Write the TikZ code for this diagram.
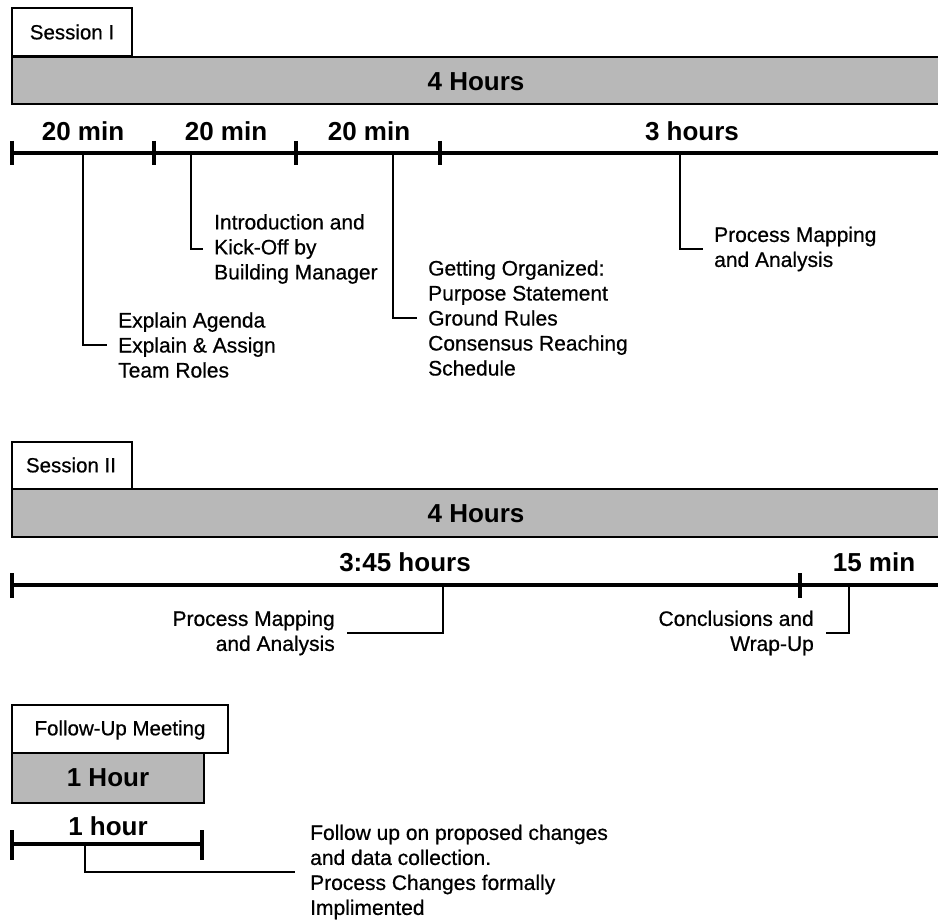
\documentclass[tikz,border=0pt]{standalone}
\usepackage{fontspec}
\setmainfont{Liberation Sans}
\newfontfamily\notefont[FakeBold=0.6]{Liberation Sans}
\definecolor{barfill}{RGB}{184,184,184}
\tikzset{
  tab/.style={draw=black, line width=1.5pt, fill=white},
  bar/.style={draw=black, line width=1.5pt, fill=barfill},
  tablabel/.style={font=\notefont\fontsize{20.5}{24}\selectfont, inner sep=0pt},
  heading/.style={font=\bfseries\fontsize{26}{29}\selectfont, inner sep=0pt},
  axis/.style={line width=3.2pt},
  tick/.style={line width=3.4pt},
  lead/.style={line width=1.4pt},
  notel/.style={font=\notefont\fontsize{21}{25}\selectfont, align=left, anchor=west, inner xsep=11pt, inner ysep=0pt},
  noter/.style={font=\notefont\fontsize{21}{25}\selectfont, align=right, anchor=east, inner xsep=12pt, inner ysep=0pt}
}
\begin{document}
\begin{tikzpicture}[x=1pt, y=-1pt]
\useasboundingbox (0,0) rectangle (938,923);
\clip (0,0) rectangle (938,923);

% ---------------- Session I ----------------
\draw[tab] (12,8) rectangle (132,56);
\node[tablabel] (s1tab) at (72,32) {Session I};
\draw[bar] (12,57) rectangle (945,104);
\node[heading] (s1total) at (476,82) {4 Hours};

\coordinate (s1start) at (12,153);
\coordinate (s1end) at (945,153);
\draw[axis] (s1start) -- (s1end);
\foreach \x in {12,154,296,440}
  \draw[tick] (\x,141) -- (\x,165);

\node[heading] (s1d1) at (83,131) {20 min};
\node[heading] (s1d2) at (226,131) {20 min};
\node[heading] (s1d3) at (369,131) {20 min};
\node[heading] (s1d4) at (692,131) {3 hours};

\coordinate (s1p1) at (83,153);
\coordinate (s1p2) at (191,153);
\coordinate (s1p3) at (393,153);
\coordinate (s1p4) at (680,153);

\node[notel] (agenda) at (107,345) {Explain Agenda\\Explain \& Assign\\Team Roles};
\node[notel] (intro) at (203,249) {Introduction and\\Kick-Off by\\Building Manager};
\node[notel] (organize) at (417,318) {Getting Organized:\\Purpose Statement\\Ground Rules\\Consensus Reaching\\Schedule};
\node[notel] (mapping1) at (703,249) {Process Mapping\\and Analysis};

\draw[lead] (s1p1) |- (agenda.west);
\draw[lead] (s1p2) |- (intro.west);
\draw[lead] (s1p3) |- (organize.west);
\draw[lead] (s1p4) |- (mapping1.west);

% ---------------- Session II ----------------
\draw[tab] (12,442) rectangle (132,489);
\node[tablabel] (s2tab) at (71,465) {Session II};
\draw[bar] (12,489) rectangle (945,537);
\node[heading] (s2total) at (476,514) {4 Hours};

\coordinate (s2start) at (12,585);
\coordinate (s2end) at (945,585);
\draw[axis] (s2start) -- (s2end);
\foreach \x in {12,800}
  \draw[tick] (\x,573) -- (\x,598);

\node[heading] (s2d1) at (405,562) {3:45 hours};
\node[heading] (s2d2) at (874,562) {15 min};

\coordinate (s2p1) at (443,585);
\coordinate (s2p2) at (849,585);

\node[noter] (mapping2) at (347,633) {Process Mapping\\and Analysis};
\node[noter] (wrapup) at (826,633) {Conclusions and\\Wrap-Up};

\draw[lead] (s2p1) |- (mapping2.east);
\draw[lead] (s2p2) |- (wrapup.east);

% ---------------- Follow-Up Meeting ----------------
\draw[tab] (12,705) rectangle (228,753);
\node[tablabel] (s3tab) at (120,730) {Follow-Up Meeting};
\draw[bar] (12,753) rectangle (204,803);
\node[heading] (s3total) at (108,778) {1 Hour};

\coordinate (s3start) at (12,844);
\coordinate (s3end) at (202,844);
\draw[axis] (s3start) -- (s3end);
\foreach \x in {12,202}
  \draw[tick] (\x,830) -- (\x,860);

\node[heading] (s3d1) at (108,826) {1 hour};

\coordinate (s3p1) at (85,844);
\node[notel, inner xsep=15pt] (followup) at (295,872) {Follow up on proposed changes\\and data collection.\\Process Changes formally\\Implimented};
\draw[lead] (s3p1) |- (followup.west);
\end{tikzpicture}
\end{document}
